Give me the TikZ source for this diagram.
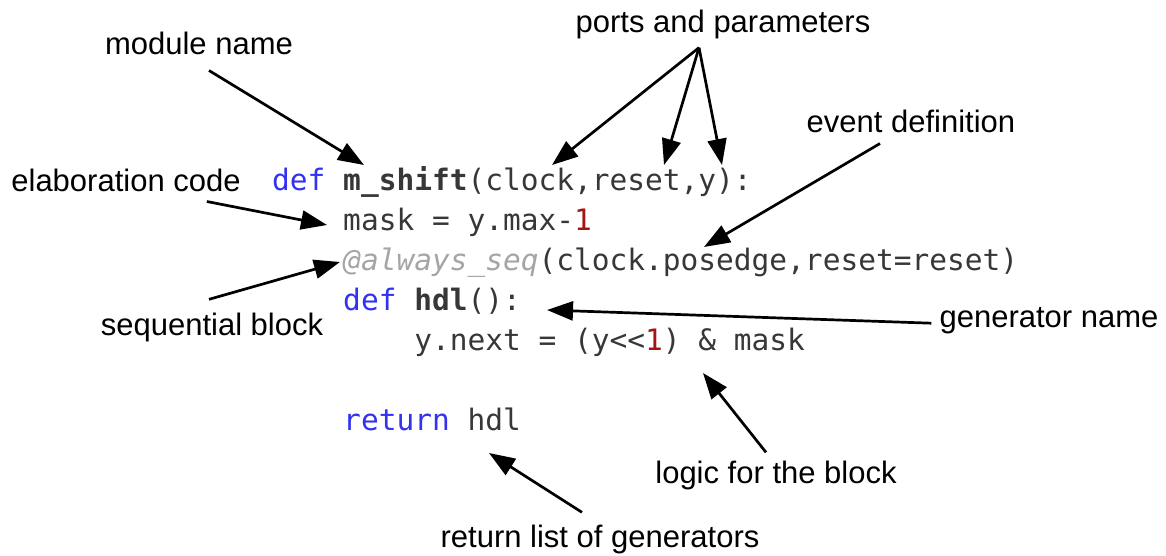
\documentclass[tikz,border=0pt]{standalone}
\usepackage{fontspec}
\setmainfont{Liberation Sans}
\newfontfamily\codefont{DejaVu Sans Mono}
\usetikzlibrary{arrows.meta}
\definecolor{kw}{RGB}{50,50,240}
\definecolor{num}{RGB}{165,20,20}
\definecolor{deco}{RGB}{165,165,165}
\definecolor{codetxt}{RGB}{55,55,55}
\begin{document}
\begin{tikzpicture}[x=1pt,y=-1pt,
  lbl/.style={inner sep=0pt,anchor=base,font=\fontsize{31}{36}\selectfont},
  code/.style={inner sep=0pt,anchor=base west,text=codetxt,font=\codefont\fontsize{29.5}{34}\selectfont},
  arr/.style={line width=2.7pt,-{Triangle[length=26pt,width=19pt]}}]
\useasboundingbox (0,0) rectangle (1166,556);
% code
\def\cw{17.76}
\node[code] (l1) at (272,190) {{\color{kw}def} \textbf{m\_shift}(clock,reset,y):};
\node[code] (l2) at (272+4*\cw,230) {mask = y.max-{\color{num}1}};
\node[code] (l3) at (272+4*\cw,270) {{\color{deco}\itshape @always\_seq}(clock.posedge,reset=reset)};
\node[code] (l4) at (272+4*\cw,310) {{\color{kw}def} \textbf{hdl}():};
\node[code] (l5) at (272+8*\cw,350) {y.next = (y<{}<{\color{num}1}) \& mask};
\node[code] (l6) at (272+4*\cw,430) {{\color{kw}return} hdl};
% labels
\node[lbl] (mod) at (199,55) {module name};
\node[lbl] (ports) at (723,33) {ports and parameters};
\node[lbl] (evt) at (911,133) {event definition};
\node[lbl] (elab) at (126,192) {elaboration code};
\node[lbl] (seq) at (212,335) {sequential block};
\node[lbl] (gen) at (1049,327) {generator name};
\node[lbl] (logic) at (776,483) {logic for the block};
\node[lbl] (ret) at (600,547) {return list of generators};
% arrow tips
\coordinate (tMod) at (364,165);
\coordinate (tClk) at (552,165);
\coordinate (tRst) at (664,165);
\coordinate (tY) at (722,165);
\coordinate (tEvt) at (704,247);
\coordinate (tElab) at (327,225);
\coordinate (tSeq) at (340,262);
\coordinate (tGen) at (547,310);
\coordinate (tLog) at (703,373);
\coordinate (tRet) at (489,453);
\coordinate (apex) at ([shift={(-24,8)}]ports.south);
% arrows
\draw[arr] ([shift={(10,15)}]mod.south) -- (tMod);
\draw[arr] (apex) -- (tClk);
\draw[arr] (apex) -- (tRst);
\draw[arr] (apex) -- (tY);
\draw[arr] ([shift={(-31,10)}]evt.south) -- (tEvt);
\draw[arr] ([shift={(-34,9)}]elab.south east) -- (tElab);
\draw[arr] ([shift={(-3,-13)}]seq.north) -- (tSeq);
\draw[arr] ([shift={(-8,3)}]gen.west) -- (tGen);
\draw[arr] ([shift={(-10,-8)}]logic.north) -- (tLog);
\draw[arr] ([shift={(-18,-12)}]ret.north) -- (tRet);
\end{tikzpicture}
\end{document}
